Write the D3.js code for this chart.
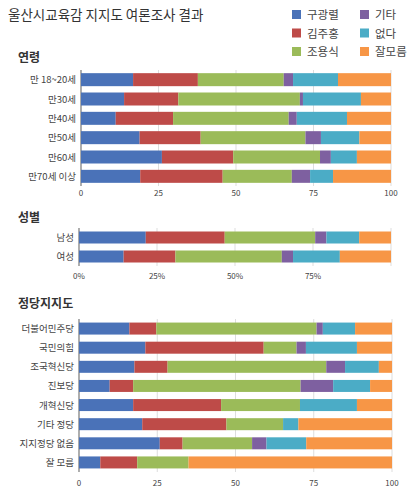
<!DOCTYPE html>
<html><head><meta charset="utf-8">
<script src="https://cdn.jsdelivr.net/npm/d3@7"></script>
<style>body{margin:0;background:#fff;font-family:"Noto Sans CJK KR","Noto Sans",sans-serif;}</style>
</head><body><svg id="c" width="413" height="500"></svg>
<script>
const series = ["구광렬","김주홍","조용식","기타","없다","잘모름"];
const colors = ["#4a72b8","#be4b48","#9bbb59","#7e60a0","#4bacc6","#f79646"];
const ageCats = ["만 18~20세","만30세","만40세","만50세","만60세","만70세 이상"];
const ageVals = [
 [16.8,20.9,27.7,3.0,14.5,17.1],
 [13.9,17.5,39.2,1.0,18.7,9.7],
 [11.2,18.5,37.3,2.6,16.2,14.2],
 [18.9,19.7,33.8,5.0,12.4,10.2],
 [26.1,23.0,28.0,3.5,8.4,11.0],
 [19.1,26.6,22.3,5.9,7.4,18.7]];
const genderCats = ["남성","여성"];
const genderVals = [
 [21.4,25.3,29.0,3.6,10.5,10.2],
 [14.3,16.6,34.1,3.6,15.0,16.4]];
const partyCats = ["더불어민주당","국민의힘","조국혁신당","진보당","개혁신당","기타 정당","지지정당 없음","잘 모름"];
const partyVals = [
 [16.1,8.6,51.2,2.0,10.3,11.8],
 [21.2,37.8,10.5,3.0,16.3,11.2],
 [17.7,10.6,50.7,6.0,10.8,4.2],
 [9.8,7.5,53.5,10.4,11.8,7.0],
 [17.3,28.1,25.2,0,18.2,11.2],
 [20.2,26.9,18.1,0,4.9,29.9],
 [25.8,7.3,22.2,4.6,12.7,27.4],
 [6.8,11.8,16.4,0,0,65.0]];
const ticksNum = [0,25,50,75,100];
const ticksPct = ["0%","25%","50%","75%"];

const svg = d3.select("#c");
svg.append("text").attr("x",8).attr("y",20).attr("font-size",13.5).attr("fill","#333").text("울산시교육감 지지도 여론조사 결과");
// legend
series.forEach((s,i)=>{
  const col = i<3?0:1, row=i%3;
  const x = col?360:292, y = 10+row*18.5;
  svg.append("rect").attr("x",x).attr("y",y).attr("width",9).attr("height",9).attr("fill",colors[i]);
  svg.append("text").attr("x",x+15).attr("y",y+9).attr("font-size",11.5).attr("fill","#444").text(s);
});

function panel(title, titleY, cats, vals, top, bottom, x0, x1, tickLabels, tickY, barH){
  svg.append("text").attr("x",18).attr("y",titleY).attr("font-size",12).attr("font-weight","bold").attr("fill","#333").text(title);
  const x = d3.scaleLinear().domain([0,100]).range([x0,x1]);
  const y = d3.scaleBand().domain(cats).range([top,bottom]).paddingInner(0.3).paddingOuter(0.15);
  const g = svg.append("g");
  ticksNum.slice(1).forEach(t=>g.append("line").attr("x1",x(t)).attr("x2",x(t)).attr("y1",top).attr("y2",bottom).attr("stroke","#ddd"));
  g.append("line").attr("x1",x0).attr("x2",x0).attr("y1",top).attr("y2",bottom).attr("stroke","#777").attr("stroke-width",1.2);
  cats.forEach((c,i)=>{
    let acc=0;
    vals[i].forEach((v,j)=>{
      g.append("rect").attr("x",x(acc)).attr("y",y(c)+(y.bandwidth()-barH)/2).attr("width",x(acc+v)-x(acc)).attr("height",barH).attr("fill",colors[j]);
      acc+=v;
    });
    g.append("text").attr("x",x0-5).attr("y",y(c)+y.bandwidth()/2+3.5).attr("text-anchor","end").attr("font-size",9.5).attr("fill","#444").text(c);
  });
  tickLabels.forEach((t,i)=>g.append("text").attr("x",x(ticksNum[i])).attr("y",tickY).attr("text-anchor","middle").attr("font-size",8).attr("fill","#444").text(t));
}
panel("연령",62,ageCats,ageVals,70,186,81,391,ticksNum.map(String),196,13);
panel("성별",222,genderCats,genderVals,228,266,79,391,ticksPct,279,12);
panel("정당지지도",308,partyCats,partyVals,319,472,79,392,ticksNum.map(String),486,12);
</script></body></html>
